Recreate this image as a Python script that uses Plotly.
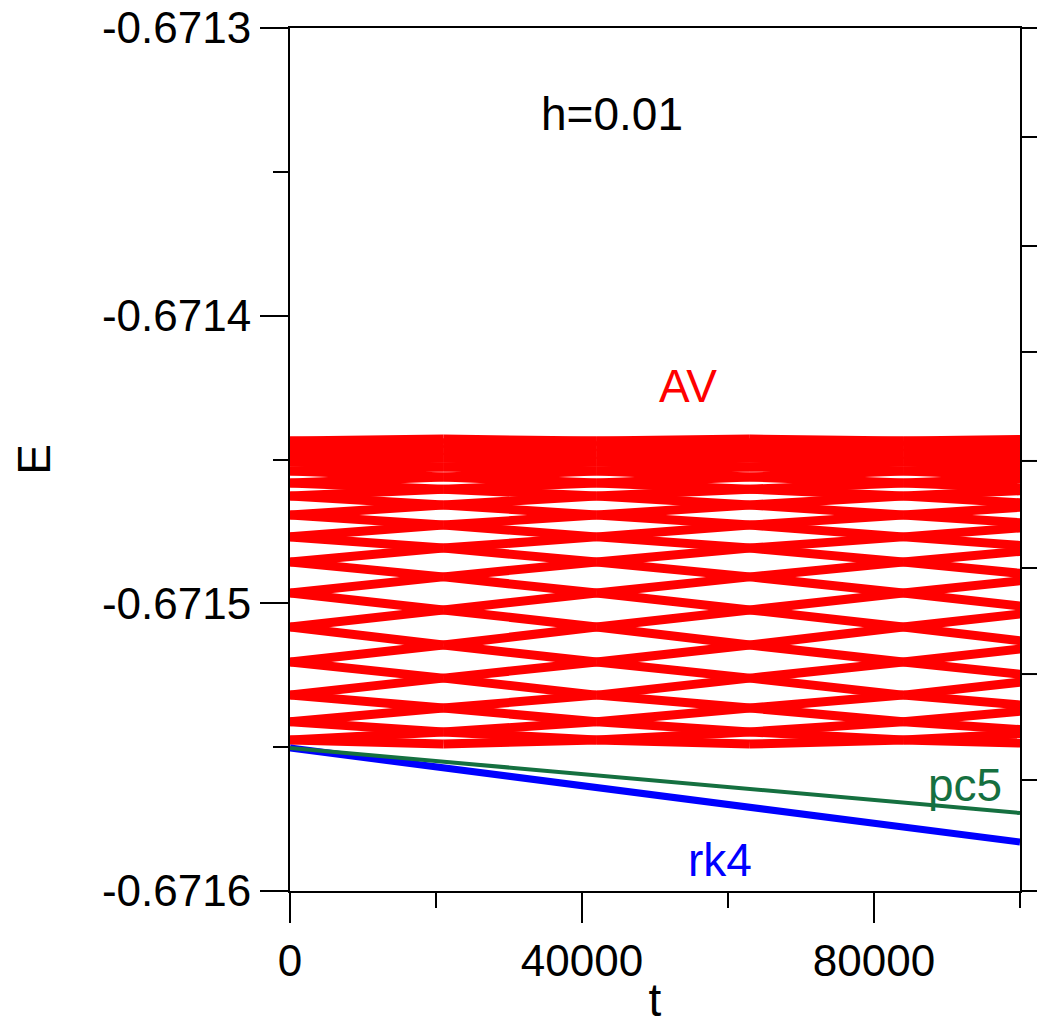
import plotly.graph_objects as go

# ---------------- data ----------------
# AV: the sampled energy forms a crossing (diamond) pattern; nodes of the
# pattern at these times, with the energy levels of the nodes at each time.
av_node_t = [0, 21000, 42000, 63000, 84000, 105000]
# levels at t = 21000, 63000, 105000
av_levels_a = [-0.6714429, -0.6714443, -0.6714467, -0.6714495, -0.6714526,
               -0.6714561, -0.6714603, -0.6714658, -0.6714728, -0.6714808,
               -0.6714908, -0.6715023, -0.6715145, -0.6715260, -0.6715364,
               -0.6715447, -0.6715489]
# levels at t = 0, 42000, 84000
av_levels_b = [-0.6714436, -0.6714453, -0.6714481, -0.6714509, -0.6714540,
               -0.6714582, -0.6714627, -0.6714693, -0.6714769, -0.6714856,
               -0.6714964, -0.6715082, -0.6715204, -0.6715319, -0.6715412,
               -0.6715475]

pc5_t = [0, 100000]
pc5_E = [-0.6715503, -0.6715729]
rk4_t = [0, 100000]
rk4_E = [-0.6715503, -0.6715830]

x_tickvals = [0, 40000, 80000]
x_ticktext = ["0", "40000", "80000"]
x_minor = [20000, 60000, 100000]
y_tickvals = [-0.6716, -0.6715, -0.6714, -0.6713]
y_ticktext = ["-0.6716", "-0.6715", "-0.6714", "-0.6713"]
y_minor = [-0.67155, -0.67145, -0.67135]

# ticks of the neighbouring (cropped) panel at the right edge, paper fractions
right_major = [0.7474, 0.4983, 0.2514]
right_minor = [0.8737, 0.6246, 0.3743, 0.1286]

FONT = "Liberation Sans, Arial, Helvetica, sans-serif"
RED, GREEN, BLUE = "#ff0000", "#157040", "#0000ff"

# build the AV crossing segments from the node levels
av_x, av_y = [], []
for k in range(len(av_node_t) - 1):
    t0, t1 = av_node_t[k], av_node_t[k + 1]
    for i, lb in enumerate(av_levels_b):
        for la in (av_levels_a[i], av_levels_a[i + 1]):
            if k % 2 == 0:
                av_x += [t0, t1, None]
                av_y += [lb, la, None]
            else:
                av_x += [t0, t1, None]
                av_y += [la, lb, None]

fig = go.Figure()
fig.add_trace(go.Scatter(x=av_x, y=av_y, mode="lines",
                         line=dict(color=RED, width=9), name="AV",
                         hoverinfo="skip"))
fig.add_trace(go.Scatter(x=rk4_t, y=rk4_E, mode="lines",
                         line=dict(color=BLUE, width=7), name="rk4"))
fig.add_trace(go.Scatter(x=pc5_t, y=pc5_E, mode="lines",
                         line=dict(color=GREEN, width=4), name="pc5"))

# the page body adds an 8 px offset; the figure is sized to fill the window
fig.update_layout(
    width=1037, height=1022,
    margin=dict(l=282, r=25, t=20, b=139, autoexpand=False),
    paper_bgcolor="white", plot_bgcolor="white",
    showlegend=False,
    font=dict(family=FONT, size=44, color="black"),
)
fig.update_xaxes(
    range=[0, 100000], showgrid=False, zeroline=False,
    showline=True, linecolor="black", linewidth=2, mirror=True,
    ticks="outside", ticklen=30, tickwidth=2, tickcolor="black",
    tickvals=x_tickvals, ticktext=x_ticktext,
    tickfont=dict(family=FONT, size=44), ticklabeloverflow="allow",
    minor=dict(tickmode="array", tickvals=x_minor, ticks="outside",
               ticklen=15, tickwidth=2, tickcolor="black"),
    title=dict(text="t", font=dict(family=FONT, size=46), standoff=0),
    automargin=False,
)
fig.update_yaxes(
    range=[-0.6716, -0.6713], showgrid=False, zeroline=False,
    showline=True, linecolor="black", linewidth=2, mirror=True,
    ticks="outside", ticklen=28, tickwidth=2, tickcolor="black",
    tickvals=y_tickvals, ticktext=y_ticktext,
    tickfont=dict(family=FONT, size=44), ticklabeloverflow="allow",
    minor=dict(tickmode="array", tickvals=y_minor, ticks="outside",
               ticklen=15, tickwidth=2, tickcolor="black"),
    title=dict(text="E", font=dict(family=FONT, size=46), standoff=38),
    automargin=False,
)

# neighbouring panel frame pieces (cropped figure)
shapes = []
x_end = 755 / 730.0
shapes.append(dict(type="line", xref="paper", yref="paper", x0=1, x1=x_end,
                   y0=1, y1=1, line=dict(color="black", width=2)))
shapes.append(dict(type="line", xref="paper", yref="paper", x0=1, x1=x_end,
                   y0=0, y1=0, line=dict(color="black", width=2)))
for yv in right_major:
    shapes.append(dict(type="line", xref="paper", yref="paper", x0=1,
                       x1=x_end, y0=yv, y1=yv,
                       line=dict(color="black", width=2)))
for yv in right_minor:
    shapes.append(dict(type="line", xref="paper", yref="paper", x0=1,
                       x1=1 + 17 / 730.0, y0=yv, y1=yv,
                       line=dict(color="black", width=2)))
fig.update_layout(shapes=shapes)

annots = [
    dict(text="h=0.01", x=44110, y=-0.6713300, color="black"),
    dict(text="AV", x=54520, y=-0.6714244, color=RED),
    dict(text="pc5", x=92466, y=-0.6715632, color=GREEN),
    dict(text="rk4", x=58904, y=-0.6715892, color=BLUE),
]
for a in annots:
    fig.add_annotation(x=a["x"], y=a["y"], xref="x", yref="y", text=a["text"],
                       showarrow=False,
                       font=dict(family=FONT, size=46, color=a["color"]))

fig.write_html("out.html")
